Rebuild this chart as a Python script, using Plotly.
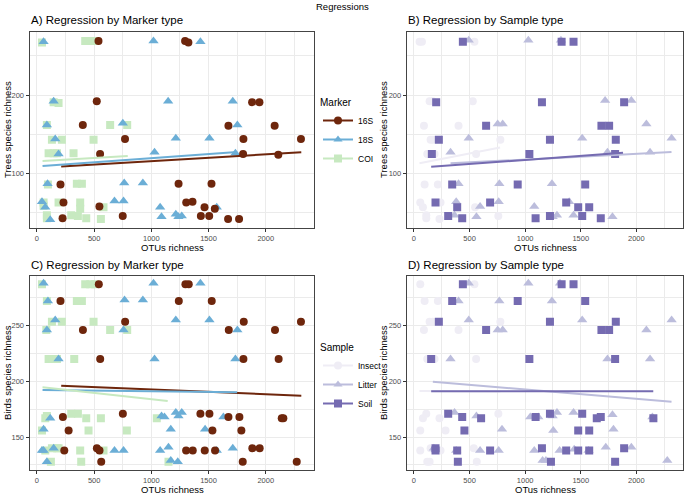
import plotly.graph_objects as go

W, H = 685, 495

# ---------------- data: Trees (panels A / B) ----------------
markers = ["16S", "18S", "COI"]
samples = ["Insect", "Litter", "Soil"]

treeA_16S_otu = [538, 1295, 1324, 523, 1881, 1945, 401, 1674, 2078, 770, 1805, 2308, 552, 1802, 2110, 206, 1238, 1526,
                 232, 1305, 1360, 546, 1465, 1555, 224, 750, 1433, 1506, 1671, 1767]
treeA_16S_y = [269, 269, 267, 192, 191, 191, 162, 161, 161, 144, 144, 144, 125, 125, 124, 86, 87, 87,
               63, 63, 64, 58, 57, 55, 43, 46, 46, 46, 42, 42]
treeA_18S_otu = [58, 1019, 1429, 146, 1147, 1712, 87, 751, 1752, 160, 1214, 1508, 189, 1028, 1735, 93, 763, 926,
                 44, 73, 678, 757, 1077, 1089, 1214, 1237, 1266, 1572, 116]
treeA_18S_y = [268, 269, 268, 192, 192, 192, 162, 164, 162, 144, 145, 145, 125, 127, 126, 87, 88, 88,
               64, 57, 65, 65, 57, 45, 48, 45, 46, 57, 41]
treeA_COI_otu = [44, 422, 466, 509, 146, 189, 87, 640, 789, 131, 218, 495, 102, 146, 175, 320, 96, 349, 393,
                 58, 58, 378, 378, 189, 582, 87, 87, 300, 358, 431, 559]
treeA_COI_y = [267, 269, 269, 269, 191, 190, 162, 162, 162, 143, 143, 143, 126, 126, 126, 126, 86, 87, 87,
               63, 59, 63, 55, 63, 57, 47, 43, 47, 46, 43, 42]

treeB_Insect_otu = [51, 72, 544, 141, 170, 529, 90, 401, 150, 170, 777, 120, 141, 185, 559, 96, 215, 57, 81, 239,
                    550, 111, 111, 230, 759]
treeB_Insect_y = [268, 268, 268, 192, 192, 192, 161, 161, 143, 143, 143, 125, 125, 125, 125, 86, 86, 63, 57, 63,
                  57, 47, 43, 42, 46]
treeB_Litter_otu = [493, 1029, 1322, 1719, 1955, 753, 798, 2090, 493, 1513, 2317, 329, 1740, 2123, 401, 768, 1241,
                    380, 762, 595, 1082, 1396, 365, 562, 1247, 1286, 1435, 1785]
treeB_Litter_y = [270, 270, 270, 193, 193, 163, 163, 163, 145, 145, 145, 127, 127, 127, 87, 87, 87,
                  64, 64, 58, 58, 64, 47, 45, 45, 47, 47, 45]
treeB_Soil_otu = [440, 1328, 1435, 200, 1151, 1890, 649, 1686, 1755, 224, 1223, 1815, 161, 1038, 1809, 344, 933,
                  1540, 194, 685, 1369, 389, 1477, 1576, 308, 434, 1094, 1223, 1513, 1680]
treeB_Soil_y = [268, 268, 268, 191, 191, 191, 161, 161, 161, 143, 143, 143, 125, 125, 125, 86, 86,
                86, 63, 63, 63, 57, 57, 57, 46, 43, 43, 46, 46, 43]

# ---------------- data: Birds (panels C / D) ----------------
birdC_16S_otu = [541, 1298, 1327, 206, 1240, 1528, 771, 1808, 2308, 402, 1677, 2081, 553, 1805, 2113, 227, 751, 1429,
                 1508, 1674, 1770, 2140, 2154, 277, 1534, 1787, 239, 524, 547, 1304, 1362, 1467, 1557, 1883, 1947,
                 562, 1799, 2271]
birdC_16S_y = [287, 287, 287, 272, 272, 272, 253.5, 253.5, 253.5, 246, 246, 246, 220, 220, 220, 168, 171, 171,
               171, 168, 168, 167, 167, 156, 156, 156, 138, 140, 138, 138, 138, 138, 138, 140, 140,
               128, 128, 128]
birdC_18S_otu = [58, 1019, 1429, 96, 766, 926, 160, 1214, 1508, 87, 757, 1752, 189, 1028, 1735, 116, 1089, 1115,
                 1214, 1237, 1266, 1630, 58, 1170, 1470, 44, 58, 146, 678, 757, 1077, 1150, 1572, 1712, 87, 1170,
                 1231]
birdC_18S_y = [288, 288, 288, 272, 273, 273, 255, 255, 255, 246, 246, 246, 220, 220, 220, 167, 169, 168,
               172, 169, 172, 168, 157, 157, 157, 138, 138, 140, 138, 138, 138, 141, 138, 140, 128, 129,
               128]
birdC_COI_otu = [44, 422, 466, 509, 87, 349, 393, 131, 218, 495, 82, 640, 789, 102, 140, 175, 326, 73, 87, 300, 358,
                 431, 559, 1048, 44, 451, 786, 73, 131, 175, 189, 378, 582, 122, 387, 1150]
birdC_COI_y = [287, 287, 287, 287, 272, 272, 272, 253.5, 253.5, 253.5, 246, 246, 246, 220, 220, 220, 220, 167, 169,
               171, 171, 167, 167, 167, 156, 156, 156, 138, 140, 140, 140, 138, 138, 128, 128, 128]

birdD_Insect_otu = [57, 544, 96, 215, 141, 170, 777, 90, 401, 120, 185, 559, 111, 81, 230, 759, 57, 284, 57, 150,
                    239, 538, 120, 141, 565]
birdD_Insect_y = [287, 287, 272, 272, 253.5, 253.5, 253.5, 246, 246, 220, 220, 220, 171, 167, 167, 171, 156, 156,
                  138, 140, 138, 140, 128, 128, 128]
birdD_Litter_otu = [493, 1029, 1313, 401, 768, 1241, 493, 1513, 2317, 753, 798, 2090, 329, 1740, 2123, 365, 562,
                    1046, 1118, 1247, 1286, 1435, 1785, 2144, 792, 1253, 1794, 179, 380, 595, 762, 1082, 1310, 1441,
                    1570, 1725, 1955, 1157, 1187, 2278]
birdD_Litter_y = [288, 288, 288, 272, 272, 272, 255, 255, 255, 246, 246, 246, 220, 220, 220, 172, 169,
                  168, 168, 169, 172, 172, 170, 168, 157, 156, 157, 140, 138, 138, 138, 138, 138, 139,
                  138, 141, 141, 129, 129, 129]
birdD_Soil_otu = [440, 1328, 1435, 344, 933, 1540, 224, 1223, 1815, 649, 1686, 1755, 155, 1038, 1809, 308, 434, 604,
                  1094, 1223, 1513, 1644, 1680, 2153, 454, 1477, 1576, 194, 194, 389, 685, 1151, 1369, 1477, 1576,
                  1890, 395, 1232, 1809]
birdD_Soil_y = [287, 287, 287, 272, 272, 272, 253.5, 253.5, 253.5, 246, 246, 246, 220, 220, 220, 171, 168, 167,
                168, 171, 171, 167, 168, 167, 156, 156, 156, 140, 138, 138, 138, 140, 138, 138, 138,
                140, 128, 128, 128]

# ---------------- regression lines ----------------
fitA_x0 = [212, 49, 49];   fitA_x1 = [2311, 1750, 794]
fitA_y0 = [108.9, 109.5, 116.1]; fitA_y1 = [127.2, 127.6, 122.5]
fitB_x0 = [50, 329, 155];  fitB_x1 = [775, 2316, 1880]
fitB_y0 = [113.2, 113.0, 108.6]; fitB_y1 = [133.1, 127.4, 126.6]
fitC_x0 = [212, 49, 49];   fitC_x1 = [2311, 1750, 1143]
fitC_y0 = [196.1, 192.2, 194.7]; fitC_y1 = [187.2, 190.2, 182.3]
fitD_x0 = [50, 170, 155];  fitD_x1 = [777, 2316, 2152]
fitD_y0 = [191.3, 199.7, 191.1]; fitD_y1 = [190.9, 181.8, 191.1]

x_ticks = [0, 500, 1000, 1500, 2000]
tree_ticks = [100, 200]
bird_ticks = [150, 200, 250]

# ---------------- styles ----------------
marker_colors = {"16S": "#6E260C", "18S": "#6BAED6", "COI": "#C7E9C0"}
marker_symbols = {"16S": "circle", "18S": "triangle-up", "COI": "square"}
sample_colors = {"Insect": "#EFEDF5", "Litter": "#BCBDDC", "Soil": "#756BB1"}
sample_symbols = {"Insect": "circle", "Litter": "triangle-up", "Soil": "square"}
msize = {"circle": 8, "triangle-up": 9, "square": 8}

FONT = "Liberation Sans, Arial, sans-serif"

fig = go.Figure()

def px_x(p):
    return p / W

def px_y(p):
    return 1 - p / H

panels = {
    "A": dict(xa="x", ya="y", xd=[px_x(29.5), px_x(314)], yd=[px_y(228), px_y(32)]),
    "B": dict(xa="x2", ya="y2", xd=[px_x(406.7), px_x(683.3)], yd=[px_y(228), px_y(32)]),
    "C": dict(xa="x3", ya="y3", xd=[px_x(29.5), px_x(314)], yd=[px_y(470), px_y(276)]),
    "D": dict(xa="x4", ya="y4", xd=[px_x(406.7), px_x(683.3)], yd=[px_y(470), px_y(276)]),
}

def add_points(panel, xs, ys, color, symbol):
    p = panels[panel]
    fig.add_trace(go.Scatter(x=xs, y=ys, mode="markers", xaxis=p["xa"], yaxis=p["ya"], showlegend=False,
                             marker=dict(color=color, symbol=symbol, size=msize[symbol], line=dict(width=0)),
                             hoverinfo="skip"))

def add_fit(panel, x0, x1, y0, y1, color):
    p = panels[panel]
    fig.add_trace(go.Scatter(x=[x0, x1], y=[y0, y1], mode="lines", xaxis=p["xa"], yaxis=p["ya"],
                             showlegend=False, line=dict(color=color, width=2), hoverinfo="skip"))

treeA = {"16S": (treeA_16S_otu, treeA_16S_y), "18S": (treeA_18S_otu, treeA_18S_y), "COI": (treeA_COI_otu, treeA_COI_y)}
treeB = {"Insect": (treeB_Insect_otu, treeB_Insect_y), "Litter": (treeB_Litter_otu, treeB_Litter_y),
         "Soil": (treeB_Soil_otu, treeB_Soil_y)}
birdC = {"16S": (birdC_16S_otu, birdC_16S_y), "18S": (birdC_18S_otu, birdC_18S_y), "COI": (birdC_COI_otu, birdC_COI_y)}
birdD = {"Insect": (birdD_Insect_otu, birdD_Insect_y), "Litter": (birdD_Litter_otu, birdD_Litter_y),
         "Soil": (birdD_Soil_otu, birdD_Soil_y)}

for m in ["COI", "18S", "16S"]:
    add_points("A", *treeA[m], marker_colors[m], marker_symbols[m])
    add_points("C", *birdC[m], marker_colors[m], marker_symbols[m])
for s in samples:
    add_points("B", *treeB[s], sample_colors[s], sample_symbols[s])
    add_points("D", *birdD[s], sample_colors[s], sample_symbols[s])

for i, m in enumerate(markers):
    add_fit("A", fitA_x0[i], fitA_x1[i], fitA_y0[i], fitA_y1[i], marker_colors[m])
    add_fit("C", fitC_x0[i], fitC_x1[i], fitC_y0[i], fitC_y1[i], marker_colors[m])
for i, s in enumerate(samples):
    add_fit("B", fitB_x0[i], fitB_x1[i], fitB_y0[i], fitB_y1[i], sample_colors[s])
    add_fit("D", fitD_x0[i], fitD_x1[i], fitD_y0[i], fitD_y1[i], sample_colors[s])

# legend entries
for m in markers:
    fig.add_trace(go.Scatter(x=[None], y=[None], mode="lines+markers", name=m, legend="legend",
                             xaxis="x", yaxis="y",
                             line=dict(color=marker_colors[m], width=2),
                             marker=dict(color=marker_colors[m], symbol=marker_symbols[m], size=8)))
for s in samples:
    fig.add_trace(go.Scatter(x=[None], y=[None], mode="lines+markers", name=s, legend="legend2",
                             xaxis="x3", yaxis="y3",
                             line=dict(color=sample_colors[s], width=2),
                             marker=dict(color=sample_colors[s], symbol=sample_symbols[s], size=8)))

grid = "#EBEBEB"
def xaxis_cfg(dom, anchor):
    return dict(domain=dom, anchor=anchor, range=[-65, 2422], tickvals=x_ticks, ticktext=[str(v) for v in x_ticks],
                showgrid=True, gridcolor=grid, gridwidth=1, zeroline=False,
                minor=dict(dtick=250, tick0=0, showgrid=True, gridcolor=grid, gridwidth=0.6, ticklen=0),
                showline=True, linecolor="#444444", linewidth=1, mirror=True,
                ticks="outside", ticklen=3, tickcolor="#333333", tickwidth=1,
                tickfont=dict(size=7.5, color="#4D4D4D", family=FONT))

def yaxis_cfg(dom, anchor, rng, ticks, minor_dtick):
    return dict(domain=dom, anchor=anchor, range=rng, tickvals=ticks, ticktext=[str(v) for v in ticks],
                showgrid=True, gridcolor=grid, gridwidth=1, zeroline=False,
                minor=dict(dtick=minor_dtick, tick0=0 if minor_dtick == 50 else 25, showgrid=True,
                           gridcolor=grid, gridwidth=0.6, ticklen=0),
                showline=True, linecolor="#444444", linewidth=1, mirror=True,
                ticks="outside", ticklen=3, tickcolor="#333333", tickwidth=1,
                tickfont=dict(size=7.5, color="#4D4D4D", family=FONT))

tree_range = [30.6, 280.4]
bird_range = [120.5, 294.5]

def ann(text, x, y, size=9.5, xanchor="center", angle=0):
    return dict(text=text, x=px_x(x), y=px_y(y), xref="paper", yref="paper", showarrow=False,
                font=dict(size=size, color="#000000"), xanchor=xanchor, yanchor="middle", textangle=angle)

annotations = [
    ann("Regressions", 342, 7, 9.5),
    ann("A) Regression by Marker type", 28.5, 20, 11.5, "left"),
    ann("B) Regression by Sample type", 405.5, 20, 11.5, "left"),
    ann("C) Regression by Marker type", 28.5, 265, 11.5, "left"),
    ann("D) Regression by Sample type", 405.5, 265, 11.5, "left"),
    ann("OTUs richness", 172, 247.5),
    ann("OTUs richness", 545, 247.5),
    ann("OTUs richness", 172, 489.5),
    ann("OTus richness", 545, 489.5),
    ann("Trees species richness", 7, 130, angle=-90),
    ann("Trees species richness", 383, 130, angle=-90),
    ann("Birds species richness", 7, 373, angle=-90),
    ann("Birds species richness", 383, 373, angle=-90),
]

fig.update_layout(
    width=W, height=H, margin=dict(l=0, r=0, t=0, b=0),
    paper_bgcolor="white", plot_bgcolor="white",
    font=dict(family=FONT, color="#000000"),
    hovermode=False,
    xaxis=xaxis_cfg(panels["A"]["xd"], "y"),
    yaxis=yaxis_cfg(panels["A"]["yd"], "x", tree_range, tree_ticks, 50),
    xaxis2=xaxis_cfg(panels["B"]["xd"], "y2"),
    yaxis2=yaxis_cfg(panels["B"]["yd"], "x2", tree_range, tree_ticks, 50),
    xaxis3=xaxis_cfg(panels["C"]["xd"], "y3"),
    yaxis3=yaxis_cfg(panels["C"]["yd"], "x3", bird_range, bird_ticks, 25),
    xaxis4=xaxis_cfg(panels["D"]["xd"], "y4"),
    yaxis4=yaxis_cfg(panels["D"]["yd"], "x4", bird_range, bird_ticks, 25),
    legend=dict(title=dict(text="Marker", font=dict(size=10)), x=px_x(318), y=px_y(93),
                xanchor="left", yanchor="top", font=dict(size=8.5), bgcolor="rgba(0,0,0,0)",
                itemwidth=30, tracegroupgap=0),
    legend2=dict(title=dict(text="Sample", font=dict(size=10)), x=px_x(318), y=px_y(338),
                 xanchor="left", yanchor="top", font=dict(size=8.5), bgcolor="rgba(0,0,0,0)",
                 itemwidth=30, tracegroupgap=0),
    annotations=annotations,
)

fig.write_html("out.html", config={"displayModeBar": False},
               post_script="document.body.style.margin='0';document.body.style.padding='0';")
